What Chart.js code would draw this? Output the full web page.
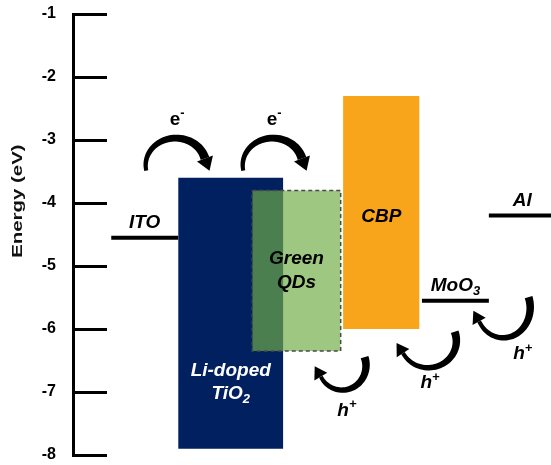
<!DOCTYPE html>
<html>
<head>
<meta charset="utf-8">
<title>Energy level diagram</title>
<script src="https://cdn.jsdelivr.net/npm/chart.js@4.4.1/dist/chart.umd.min.js"></script>
<style>
    html, body { margin: 0; padding: 0; background: #fff; }
    #wrap { width: 551px; height: 465px; }
</style>
</head>
<body>
<div id="wrap"><canvas id="bandChart" width="551" height="465"></canvas></div>
<script>
// ---- band data (eV) ----
const layerNames  = ['Li-doped TiO_2', 'Green QDs', 'CBP'];
const layerLeft   = [2.2, 3.75, 5.65];
const layerRight  = [4.4, 5.6, 7.25];
const layerLumo   = [-3.6, -3.8, -2.3];
const layerHomo   = [-7.9, -6.35, -6.0];

const electrodeNames = ['ITO', 'MoO_3', 'Al'];
const electrodeLeft  = [0.8, 7.3, 8.7];
const electrodeRight = [2.2, 8.7, 10];
const electrodeLevel = [-4.55, -5.55, -4.2];

const energyTicks = [-1, -2, -3, -4, -5, -6, -7, -8];

// charge hops: centre of each curved arrow
const electronHopX = [2.15, 4.18];
const electronHopY = [-3.4, -3.4];
const holeHopX = [5.63, 7.43, 9.0];
const holeHopY = [-6.58, -6.19, -5.66];

const FONT = "'Liberation Sans', Arial, sans-serif";
const layerColors = ['#002060', 'rgba(112, 173, 71, 0.68)', '#F9A51B'];

// ---- datasets ----
const datasets = [];
layerNames.forEach((name, i) => {
    datasets.push({
        label: name,
        data: [{ x: layerLeft[i], y: layerLumo[i] }, { x: layerRight[i], y: layerLumo[i] }],
        fill: { value: layerHomo[i] },
        backgroundColor: layerColors[i],
        borderWidth: 0,
        pointRadius: 0,
        order: 10 - i
    });
});

// dashed outline round the QD box
const qd = 1;
datasets.push({
    label: 'QD outline',
    data: [
        { x: layerLeft[qd], y: layerLumo[qd] }, { x: layerRight[qd], y: layerLumo[qd] },
        { x: layerRight[qd], y: layerHomo[qd] }, { x: layerLeft[qd], y: layerHomo[qd] },
        { x: layerLeft[qd], y: layerLumo[qd] }
    ],
    borderColor: '#4a4a4a',
    borderWidth: 1.5,
    borderDash: [4, 3],
    pointRadius: 0,
    fill: false,
    order: 2
});

electrodeNames.forEach((name, i) => {
    datasets.push({
        label: name,
        data: [{ x: electrodeLeft[i], y: electrodeLevel[i] }, { x: electrodeRight[i], y: electrodeLevel[i] }],
        borderColor: '#000',
        borderWidth: 4,
        pointRadius: 0,
        fill: false,
        order: 1
    });
});

// text with _sub and ^sup characters, centred on (cx, cy)
function richText(ctx, str, cx, cy, size, style, color) {
    const parts = [];
    for (let i = 0; i < str.length; i++) {
        const ch = str[i];
        if ((ch === '_' || ch === '^') && i + 1 < str.length) {
            parts.push({ t: str[i + 1], k: ch });
            i++;
        } else if (parts.length && !parts[parts.length - 1].k) {
            parts[parts.length - 1].t += ch;
        } else {
            parts.push({ t: ch, k: '' });
        }
    }
    const font = s => `${style} ${s}px ${FONT}`;
    let total = 0;
    parts.forEach(p => {
        p.size = p.k ? size * 0.68 : size;
        ctx.font = font(p.size);
        p.w = ctx.measureText(p.t).width;
        total += p.w;
    });
    let xx = cx - total / 2;
    const base = cy + size * 0.36;
    ctx.fillStyle = color;
    ctx.textAlign = 'left';
    ctx.textBaseline = 'alphabetic';
    parts.forEach(p => {
        ctx.font = font(p.size);
        const dy = p.k === '_' ? size * 0.22 : (p.k === '^' ? -size * 0.4 : 0);
        ctx.fillText(p.t, xx, base + dy);
        xx += p.w;
    });
}

// tapered curved arrow along an ellipse arc
function hopArrow(ctx, xs, ys, a) {
    const steps = 40;
    const pts = [];
    for (let i = 0; i <= steps; i++) {
        const t = a.from + (a.to - a.from) * i / steps;
        pts.push([xs.getPixelForValue(a.cx + a.rx * Math.cos(t)), ys.getPixelForValue(a.cy - a.ry * Math.sin(t))]);
    }
    const left = [], right = [];
    pts.forEach((p, i) => {
        const p0 = pts[Math.max(0, i - 1)], p1 = pts[Math.min(steps, i + 1)];
        let dx = p1[0] - p0[0], dy = p1[1] - p0[1];
        const len = Math.hypot(dx, dy) || 1;
        dx /= len; dy /= len;
        const w = (a.w0 + (a.w1 - a.w0) * i / steps) / 2;
        left.push([p[0] - dy * w, p[1] + dx * w]);
        right.push([p[0] + dy * w, p[1] - dx * w]);
    });
    ctx.beginPath();
    left.forEach((p, i) => i ? ctx.lineTo(p[0], p[1]) : ctx.moveTo(p[0], p[1]));
    right.reverse().forEach(p => ctx.lineTo(p[0], p[1]));
    ctx.closePath();
    ctx.fill();

    // head
    const e = pts[steps], b = pts[steps - 2];
    let dx = e[0] - b[0], dy = e[1] - b[1];
    const len = Math.hypot(dx, dy);
    dx /= len; dy /= len;
    ctx.beginPath();
    ctx.moveTo(e[0] - dy * a.hw, e[1] + dx * a.hw);
    ctx.lineTo(e[0] + dx * a.hl, e[1] + dy * a.hl);
    ctx.lineTo(e[0] + dy * a.hw, e[1] - dx * a.hw);
    ctx.closePath();
    ctx.fill();
}

const bandAnnotations = {
    id: 'bandAnnotations',
    afterDatasetsDraw(chart, args, opts) {
        const { ctx, scales: { x, y } } = chart;
        ctx.save();

        // axis title
        ctx.save();
        ctx.translate(opts.titleX, y.getPixelForValue(opts.titleAt));
        ctx.rotate(-Math.PI / 2);
        ctx.scale(1.36, 1);
        ctx.fillStyle = '#111';
        ctx.font = `bold 15px ${FONT}`;
        ctx.textAlign = 'center';
        ctx.textBaseline = 'middle';
        ctx.fillText('Energy (eV)', 0, 0);
        ctx.restore();

        // arrows
        ctx.fillStyle = '#000';
        electronHopX.forEach((cx, i) => {
            hopArrow(ctx, x, y, Object.assign({ cx: cx, cy: electronHopY[i] }, opts.electronArrow));
            richText(ctx, 'e^-', x.getPixelForValue(cx + 0.03), y.getPixelForValue(electronHopY[i] + 0.75), 19, 'bold', '#000');
        });
        holeHopX.forEach((cx, i) => {
            hopArrow(ctx, x, y, Object.assign({ cx: cx, cy: holeHopY[i] }, opts.holeArrow[i]));
            const lp = opts.holeLabels[i];
            richText(ctx, 'h^+', x.getPixelForValue(lp[0]), y.getPixelForValue(lp[1]), 19, 'italic bold', '#000');
        });

        // electrode names
        electrodeNames.forEach((name, i) => {
            const cx = (electrodeLeft[i] + electrodeRight[i]) / 2 + (i === 2 ? 0.05 : 0);
            richText(ctx, name, x.getPixelForValue(cx), y.getPixelForValue(electrodeLevel[i] + 0.26), 19, 'italic bold', '#000');
        });

        // layer names
        opts.layerText.forEach((lines, i) => {
            const cx = (layerLeft[i] + layerRight[i]) / 2;
            lines.forEach(l => {
                richText(ctx, l.t, x.getPixelForValue(cx), y.getPixelForValue(l.y), 19, 'italic bold', opts.layerTextColor[i]);
            });
        });
        ctx.restore();
    }
};

new Chart(document.getElementById('bandChart'), {
    type: 'line',
    data: { datasets: datasets },
    plugins: [bandAnnotations],
    options: {
        responsive: false,
        animation: false,
        devicePixelRatio: 1,
        layout: { padding: { top: 14, bottom: 10, left: 0, right: 0 } },
        plugins: {
            legend: { display: false },
            tooltip: { enabled: false },
            bandAnnotations: {
                titleX: 18,
                titleAt: -3.97,
                electronArrow: { rx: 0.63, ry: 0.43, from: Math.PI - 0.2, to: 2 * Math.PI - 0.25, w0: 4, w1: 9, hw: 8.5, hl: 13 },
                holeArrow: [
                    { rx: 0.5, ry: 0.39, from: -0.35, to: 0.85 * Math.PI, w0: 8, w1: 4, hw: 7.5, hl: 12 },
                    { rx: 0.59, ry: 0.425, from: -0.35, to: 0.85 * Math.PI, w0: 8, w1: 4, hw: 7.5, hl: 12 },
                    { rx: 0.565, ry: 0.48, from: -0.35, to: 0.85 * Math.PI, w0: 8, w1: 4, hw: 7.5, hl: 12 }
                ],
                holeLabels: [[5.73, -7.27], [7.47, -6.83], [9.41, -6.37]],
                layerText: [
                    [{ t: 'Li-doped', y: -6.63 }, { t: 'TiO_2', y: -7.0 }],
                    [{ t: 'Green', y: -4.86 }, { t: 'QDs', y: -5.24 }],
                    [{ t: 'CBP', y: -4.19 }]
                ],
                layerTextColor: ['#fff', '#000', '#000']
            }
        },
        scales: {
            x: { type: 'linear', min: 0, max: 10, display: false },
            y: {
                type: 'linear',
                min: -8,
                max: -1,
                afterFit: scale => {
                    scale.width = 73;
                    // labels sit beside the ticks, no extra room needed above/below
                    scale.paddingTop = 0;
                    scale.paddingBottom = 0;
                },
                afterBuildTicks: scale => { scale.ticks = energyTicks.map(v => ({ value: v })); },
                ticks: {
                    color: '#000',
                    padding: 51,
                    font: { family: FONT, size: 16, weight: 'bold' }
                },
                grid: { drawOnChartArea: false, tickLength: -34, lineWidth: 3, color: '#000' },
                border: { width: 3, color: '#000' }
            }
        }
    }
});
</script>
</body>
</html>
